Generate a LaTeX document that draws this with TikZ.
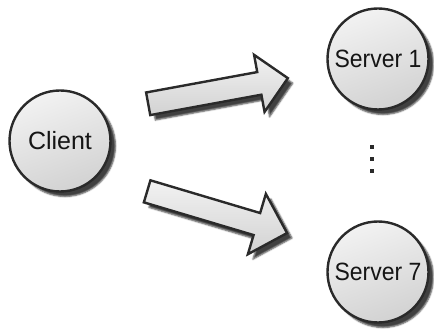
\documentclass[tikz,border=0pt]{standalone}
\usepackage{fontspec}
\setmainfont{Liberation Sans}
\usetikzlibrary{shapes.arrows,shadows.blur}
\definecolor{edgegray}{HTML}{2A2A2A}
\definecolor{textgray}{HTML}{151515}
\definecolor{filltop}{HTML}{F2F2F2}
\definecolor{fillbot}{HTML}{D2D2D2}
\tikzset{
  hostnode/.style={circle, draw=edgegray, line width=2.4pt, minimum size=101pt,
    inner sep=0pt, top color=filltop, bottom color=fillbot, shading angle=20,
    text=textgray, font=\fontsize{25}{25}\selectfont,
    blur shadow={shadow xshift=5pt, shadow yshift=-5pt, shadow blur radius=1.5pt, shadow opacity=75}},
  blockarrow/.style={single arrow, draw=edgegray, line width=2.4pt, anchor=tail,
    inner xsep=0pt, inner ysep=10.3pt, minimum width=1pt,
    single arrow tip angle=90, top color=filltop, bottom color=fillbot,
    blur shadow={shadow xshift=5pt, shadow yshift=-5pt, shadow blur radius=1.5pt, shadow opacity=75}},
  dotmark/.style={rectangle, fill=edgegray, inner sep=0pt, minimum size=4.2pt}
}
\begin{document}
\begin{tikzpicture}[x=1pt, y=-1pt]
  \useasboundingbox (0,0) rectangle (434,331);
  \node[hostnode] (client) at (60,141) {Client};
  \node[hostnode] (s1) at (378,59) {\scalebox{0.92}[1]{Server 1}};
  \node[hostnode] (s7) at (378,272) {\scalebox{0.92}[1]{Server 7}};
  \node[blockarrow, minimum height=142pt, single arrow head extend=17.5pt, rotate=10.4] (a1) at (147,104) {};
  \node[blockarrow, minimum height=146pt, single arrow head extend=20pt, rotate=-16.6] (a2) at (146,191) {};
  \node[dotmark] (d1) at (372,147) {};
  \node[dotmark] (d2) at (372,159) {};
  \node[dotmark] (d3) at (372,171) {};
\end{tikzpicture}
\end{document}
